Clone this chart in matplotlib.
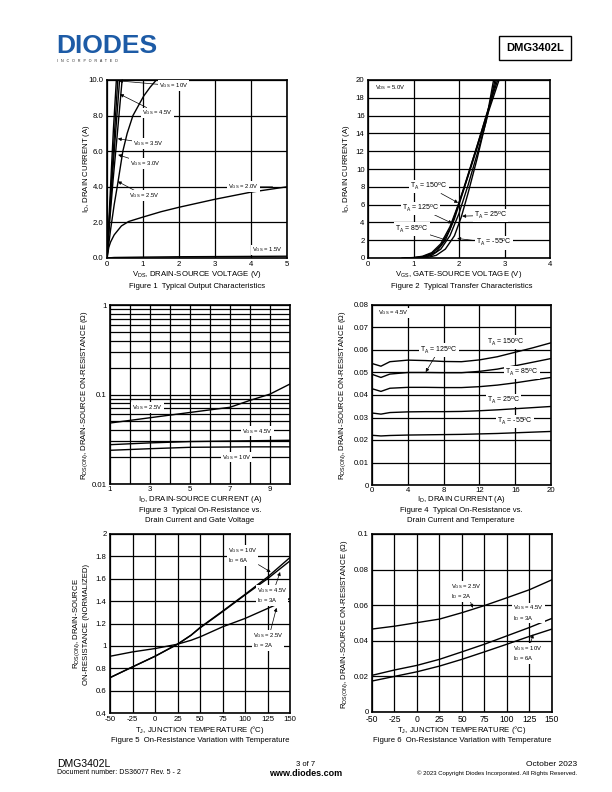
import matplotlib
matplotlib.use("Agg")
import matplotlib.pyplot as plt
from matplotlib.ticker import FixedLocator, NullFormatter

plt.rcParams['font.family'] = ['Liberation Sans', 'DejaVu Sans']
plt.rcParams['mathtext.fontset'] = 'custom'
plt.rcParams['mathtext.rm'] = 'Liberation Sans'
plt.rcParams['mathtext.it'] = 'Liberation Sans'
plt.rcParams['axes.unicode_minus'] = False

W, H = 612, 792

# ---- Figure 1: output characteristics ----
vds_10v = [0, 0.06, 0.12, 0.18, 0.26]
id_10v = [0, 2.4, 4.9, 7.3, 10]
vds_45v = [0, 0.07, 0.14, 0.21, 0.30]
id_45v = [0, 2.4, 4.8, 7.1, 10]
vds_35v = [0, 0.07, 0.15, 0.23, 0.35]
id_35v = [0, 2.3, 4.6, 6.8, 10]
vds_30v = [0, 0.08, 0.17, 0.27, 0.42]
id_30v = [0, 2.2, 4.4, 6.6, 10]
vds_25v = [0, 0.1, 0.2, 0.3, 0.44, 0.56, 0.72, 1.02, 1.2, 1.37]
id_25v = [0, 1.6, 3.0, 4.2, 6.0, 7.0, 8.0, 9.1, 9.6, 10]
vds_20v = [0, 0.05, 0.1, 0.2, 0.4, 0.6, 1.0, 1.5, 2.0, 3.0, 4.0, 5.0]
id_20v = [0, 0.6, 0.9, 1.3, 1.8, 2.05, 2.3, 2.6, 2.85, 3.3, 3.7, 4.0]
vds_15v = [0, 0.2, 1.0, 2.0, 3.0, 4.0, 5.0]
id_15v = [0, 0.03, 0.05, 0.07, 0.08, 0.09, 0.1]

# ---- Figure 2: transfer characteristics ----
vgs_150 = [0.75, 1.0, 1.2, 1.4, 1.6, 1.8, 2.0, 2.2, 2.4, 2.6, 2.88]
id_150 = [0, 0.05, 0.2, 0.6, 1.6, 3.5, 6.2, 9.2, 12.4, 15.7, 20]
vgs_125 = [0.8, 1.0, 1.2, 1.4, 1.6, 1.8, 2.0, 2.2, 2.4, 2.6, 2.85]
id_125 = [0, 0.04, 0.15, 0.5, 1.4, 3.2, 6.2, 9.4, 12.6, 16.0, 20]
vgs_85 = [0.9, 1.1, 1.3, 1.5, 1.7, 1.9, 2.1, 2.3, 2.5, 2.7, 2.82]
id_85 = [0, 0.05, 0.2, 0.7, 2.0, 4.4, 7.6, 11.0, 14.3, 17.7, 20]
vgs_25 = [1.0, 1.2, 1.4, 1.6, 1.8, 2.0, 2.2, 2.4, 2.6, 2.79]
id_25 = [0, 0.05, 0.3, 1.0, 2.5, 5.0, 8.2, 11.7, 15.4, 20]
vgs_m55 = [1.1, 1.3, 1.5, 1.7, 1.9, 2.05, 2.2, 2.4, 2.6, 2.76]
id_m55 = [0, 0.05, 0.3, 1.0, 2.5, 4.6, 7.3, 11.2, 15.5, 20]

# ---- Figure 3: RDS(on) vs drain current and gate voltage ----
id_fig3 = [1, 3, 5, 7, 8, 9, 10]
rds_25v = [0.048, 0.055, 0.063, 0.072, 0.086, 0.101, 0.131]
rds_45v = [0.0275, 0.0288, 0.0298, 0.0302, 0.0304, 0.0306, 0.0308]
rds_10v = [0.0238, 0.0248, 0.0257, 0.0259, 0.026, 0.026, 0.026]

# ---- Figure 4: RDS(on) vs drain current and temperature ----
id_fig4 = [0, 1, 2, 4, 6, 8, 10, 12, 14, 16, 18, 20]
rds4_150 = [0.0540, 0.0528, 0.0548, 0.0555, 0.0553, 0.0549, 0.0548, 0.0556, 0.0570, 0.0590, 0.0610, 0.0632]
rds4_125 = [0.0492, 0.0478, 0.0493, 0.0500, 0.0500, 0.0499, 0.0499, 0.0505, 0.0515, 0.0530, 0.0546, 0.0562]
rds4_85 = [0.0428, 0.0416, 0.0430, 0.0434, 0.0434, 0.0433, 0.0433, 0.0437, 0.0444, 0.0454, 0.0466, 0.0478]
rds4_25 = [0.0320, 0.0315, 0.0322, 0.0325, 0.0326, 0.0326, 0.0327, 0.0330, 0.0334, 0.0339, 0.0344, 0.0349]
rds4_m55 = [0.0221, 0.0218, 0.0220, 0.0222, 0.0223, 0.0224, 0.0225, 0.0227, 0.0229, 0.0232, 0.0235, 0.0238]

# ---- Figure 5 / 6: RDS(on) vs temperature ----
tj = [-50, -25, 0, 25, 40, 50, 75, 100, 125, 150]
norm_10v = [0.716, 0.812, 0.907, 1.015, 1.095, 1.164, 1.31, 1.46, 1.615, 1.79]
norm_45v = [0.716, 0.812, 0.907, 1.015, 1.095, 1.160, 1.305, 1.455, 1.60, 1.76]
norm_25v = [0.907, 0.946, 0.976, 1.015, 1.05, 1.08, 1.17, 1.245, 1.334, 1.424]

tj6 = [-50, -25, 0, 25, 50, 75, 100, 125, 150]
rds6_25v = [0.0466, 0.0482, 0.0502, 0.0522, 0.0558, 0.0598, 0.0642, 0.0687, 0.0743]
rds6_45v = [0.0206, 0.0236, 0.0262, 0.0296, 0.0338, 0.0381, 0.0428, 0.0475, 0.0526]
rds6_10v = [0.0174, 0.0200, 0.0226, 0.0258, 0.0296, 0.0338, 0.0381, 0.0425, 0.0466]

fig = plt.figure(figsize=(W / 100, H / 100), dpi=100)

FS = 5.6
AFS = 4.2
TFS = 5.0
LW = 1.0
BOX = dict(boxstyle='square,pad=0.15', fc='white', ec='none')
ARW = dict(arrowstyle='-|>', lw=0.5, color='k', mutation_scale=5, shrinkA=0, shrinkB=0)
LINE = dict(arrowstyle='-', lw=0.5, color='k', shrinkA=0, shrinkB=0)


def ptxt(x, y, s, **kw):
    kw.setdefault('fontsize', FS)
    kw.setdefault('ha', 'center')
    kw.setdefault('va', 'center')
    fig.text(x / W, 1 - y / H, s, **kw)


def make_ax(left, top, right, bottom):
    ax = fig.add_axes([left / W, 1 - bottom / H, (right - left) / W, (bottom - top) / H])
    ax.grid(True, color='k', lw=0.9)
    ax.set_axisbelow(True)
    for sp in ax.spines.values():
        sp.set_linewidth(1.2)
    ax.tick_params(length=0, labelsize=FS, pad=2.5)
    return ax


def note(ax, s, xy, xytext, ha='left', arrow=ARW, fs=AFS):
    ax.annotate(s, xy=xy, xytext=xytext, fontsize=fs, ha=ha, va='center',
                bbox=BOX, arrowprops=arrow, zorder=5)


def label(ax, x, y, s, fs=AFS, ha='left'):
    ax.text(x, y, s, fontsize=fs, ha=ha, va='center', bbox=BOX, zorder=5)


# Figure 1
ax1 = make_ax(107, 80, 287, 258)
for x, y in [(vds_10v, id_10v), (vds_45v, id_45v), (vds_35v, id_35v), (vds_30v, id_30v),
             (vds_25v, id_25v), (vds_20v, id_20v), (vds_15v, id_15v)]:
    ax1.plot(x, y, color='k', lw=LW)
ax1.set_xlim(0, 5)
ax1.set_ylim(0, 10)
ax1.set_xticks(range(0, 6))
ax1.set_yticks([0, 2, 4, 6, 8, 10])
ax1.set_yticklabels(['0.0', '2.0', '4.0', '6.0', '8.0', '10.0'])
note(ax1, 'V$_{GS}$ = 10V', (0.33, 9.95), (1.45, 9.68))
note(ax1, 'V$_{GS}$ = 4.5V', (0.36, 9.2), (0.97, 8.15))
note(ax1, 'V$_{GS}$ = 3.5V', (0.3, 6.7), (0.73, 6.45))
note(ax1, 'V$_{GS}$ = 3.0V', (0.31, 5.8), (0.64, 5.3))
note(ax1, 'V$_{GS}$ = 2.5V', (0.3, 4.3), (0.61, 3.5))
note(ax1, 'V$_{GS}$ = 2.0V', (4.6, 4.0), (3.37, 4.0), arrow=LINE)
label(ax1, 4.88, 0.45, 'V$_{GS}$ = 1.5V', ha='right')
ptxt(86, 169, 'I$_D$, DRAIN CURRENT (A)', rotation=90)
ptxt(197, 274, 'V$_{DS}$, DRAIN-SOURCE VOLTAGE (V)')
ptxt(197, 286, 'Figure 1  Typical Output Characteristics')

# Figure 2
ax2 = make_ax(368, 80, 550, 258)
for x, y in [(vgs_150, id_150), (vgs_125, id_125), (vgs_85, id_85), (vgs_25, id_25), (vgs_m55, id_m55)]:
    ax2.plot(x, y, color='k', lw=LW)
ax2.set_xlim(0, 4)
ax2.set_ylim(0, 20)
ax2.set_xticks(range(0, 5))
ax2.set_yticks(range(0, 21, 2))
label(ax2, 0.15, 19.2, 'V$_{DS}$ = 5.0V')
note(ax2, 'T$_A$ = 150$^o$C', (1.98, 6.2), (0.93, 8.0), fs=TFS)
note(ax2, 'T$_A$ = 125$^o$C', (1.85, 3.9), (0.74, 5.6), fs=TFS)
note(ax2, 'T$_A$ = 85$^o$C', (1.73, 2.0), (0.6, 3.25), fs=TFS)
note(ax2, 'T$_A$ = 25$^o$C', (2.07, 4.7), (2.33, 4.8), fs=TFS)
note(ax2, 'T$_A$ = -55$^o$C', (1.96, 2.2), (2.37, 1.7), fs=TFS)
ptxt(346, 169, 'I$_D$, DRAIN CURRENT (A)', rotation=90)
ptxt(459, 274, 'V$_{GS}$, GATE-SOURCE VOLTAGE (V)')
ptxt(462, 286, 'Figure 2  Typical Transfer Characteristics')

# Figure 3
ax3 = make_ax(110, 305, 290, 484)
for y in [rds_25v, rds_45v, rds_10v]:
    ax3.plot(id_fig3, y, color='k', lw=LW)
ax3.set_yscale('log')
ax3.set_xlim(1, 10)
ax3.set_ylim(0.01, 1)
ax3.xaxis.set_major_locator(FixedLocator([1, 3, 5, 7, 9]))
ax3.xaxis.set_minor_locator(FixedLocator([2, 4, 6, 8, 10]))
ax3.set_yticks([0.01, 0.1, 1])
ax3.set_yticklabels(['0.01', '0.1', '1'])
ax3.grid(True, which='both', color='k', lw=0.9)
ax3.yaxis.set_minor_formatter(NullFormatter())
ax3.tick_params(which='minor', length=0)
ax3.tick_params(axis='x', pad=1.5)
label(ax3, 2.1, 0.071, 'V$_{GS}$ = 2.5V')
label(ax3, 7.6, 0.039, 'V$_{GS}$ = 4.5V')
label(ax3, 6.6, 0.020, 'V$_{GS}$ = 10V')
ptxt(85, 395, 'R$_{DS(ON)}$, DRAIN-SOURCE ON-RESISTANCE (Ω)', rotation=90)
ptxt(200, 500, 'I$_D$, DRAIN-SOURCE CURRENT (A)')
ptxt(200, 510, 'Figure 3  Typical On-Resistance vs.')
ptxt(200, 520, 'Drain Current and Gate Voltage')

# Figure 4
ax4 = make_ax(372, 305, 551, 485)
for y in [rds4_150, rds4_125, rds4_85, rds4_25, rds4_m55]:
    ax4.plot(id_fig4, y, color='k', lw=LW)
ax4.set_xlim(0, 20)
ax4.set_ylim(0, 0.08)
ax4.set_xticks(range(0, 21, 4))
ax4.set_yticks([0, 0.01, 0.02, 0.03, 0.04, 0.05, 0.06, 0.07, 0.08])
ax4.set_yticklabels(['0', '0.01', '0.02', '0.03', '0.04', '0.05', '0.06', '0.07', '0.08'])
ax4.tick_params(axis='x', pad=1.5)
label(ax4, 0.7, 0.0765, 'V$_{GS}$ = 4.5V')
label(ax4, 12.85, 0.0635, 'T$_A$ = 150$^o$C', fs=TFS)
note(ax4, 'T$_A$ = 125$^o$C', (6.0, 0.0502), (5.4, 0.060), fs=TFS)
label(ax4, 14.9, 0.050, 'T$_A$ = 85$^o$C', fs=TFS)
label(ax4, 12.85, 0.0376, 'T$_A$ = 25$^o$C', fs=TFS)
label(ax4, 14.0, 0.0282, 'T$_A$ = -55$^o$C', fs=TFS)
ptxt(343, 395, 'R$_{DS(ON)}$, DRAIN-SOURCE ON-RESISTANCE (Ω)', rotation=90)
ptxt(461, 500, 'I$_D$, DRAIN CURRENT (A)')
ptxt(461, 510, 'Figure 4  Typical On-Resistance vs.')
ptxt(461, 520, 'Drain Current and Temperature')

# Figure 5
ax5 = make_ax(110, 534, 290, 713)
for y in [norm_10v, norm_45v, norm_25v]:
    ax5.plot(tj, y, color='k', lw=LW)
ax5.set_xlim(-50, 150)
ax5.set_ylim(0.4, 2)
ax5.set_xticks(range(-50, 151, 25))
ax5.set_yticks([0.4, 0.6, 0.8, 1.0, 1.2, 1.4, 1.6, 1.8, 2.0])
ax5.set_yticklabels(['0.4', '0.6', '0.8', '1', '1.2', '1.4', '1.6', '1.8', '2'])
note(ax5, 'V$_{GS}$ = 10V\nI$_D$ = 6A', (128.5, 1.66), (81.5, 1.81))
note(ax5, 'V$_{GS}$ = 4.5V\nI$_D$ = 3A', (139, 1.66), (113, 1.45))
note(ax5, 'V$_{GS}$ = 2.5V\nI$_D$ = 2A', (135, 1.34), (108.5, 1.05))
ptxt(77, 624, 'R$_{DS(ON)}$, DRAIN-SOURCE', rotation=90)
ptxt(87, 624, 'ON-RESISTANCE (NORMALIZED)', rotation=90)
ptxt(200, 730, 'T$_J$, JUNCTION TEMPERATURE (°C)')
ptxt(200, 741, 'Figure 5  On-Resistance Variation with Temperature')

# Figure 6
ax6 = make_ax(372, 534, 552, 712)
for y in [rds6_25v, rds6_45v, rds6_10v]:
    ax6.plot(tj6, y, color='k', lw=LW)
ax6.set_xlim(-50, 150)
ax6.set_ylim(0, 0.1)
ax6.set_xticks(range(-50, 151, 25))
ax6.set_yticks([0, 0.02, 0.04, 0.06, 0.08, 0.1])
ax6.set_yticklabels(['0', '0.02', '0.04', '0.06', '0.08', '0.1'])
ax6.tick_params(axis='x', labelsize=6.2)
note(ax6, 'V$_{GS}$ = 2.5V\nI$_D$ = 2A', (62, 0.0585), (38, 0.0675))
note(ax6, 'V$_{GS}$ = 4.5V\nI$_D$ = 3A', (130.7, 0.0504), (106.7, 0.0556))
note(ax6, 'V$_{GS}$ = 10V\nI$_D$ = 6A', (129, 0.0436), (106.7, 0.033))
ptxt(345, 624, 'R$_{DS(ON)}$, DRAIN-SOURCE ON-RESISTANCE (Ω)', rotation=90)
ptxt(462, 730, 'T$_J$, JUNCTION TEMPERATURE (°C)')
ptxt(462, 741, 'Figure 6  On-Resistance Variation with Temperature')

# header
ptxt(56, 46, 'DIODES', fontsize=19, fontweight='bold', color='#1d5ba6', ha='left')
ptxt(57, 61, 'I   N   C   O   R   P   O   R   A   T   E   D', fontsize=2.6, color='#222222', ha='left')
ptxt(535, 48, 'DMG3402L', fontsize=8, fontweight='bold',
     bbox=dict(boxstyle='square,pad=0.6', fc='white', ec='k', lw=1.0))

# footer
ptxt(57, 764, 'DMG3402L', fontsize=7.5, ha='left')
ptxt(57, 773, 'Document number: DS36077 Rev. 5 - 2', fontsize=5, ha='left')
ptxt(306, 764, '3 of 7', fontsize=5.5)
ptxt(306, 773, 'www.diodes.com', fontsize=6.5, fontweight='bold')
ptxt(577, 764, 'October 2023', fontsize=6, ha='right')
ptxt(577, 773, '© 2023 Copyright Diodes Incorporated. All Rights Reserved.', fontsize=4.3, ha='right')

fig.savefig('out.png', dpi=100)
